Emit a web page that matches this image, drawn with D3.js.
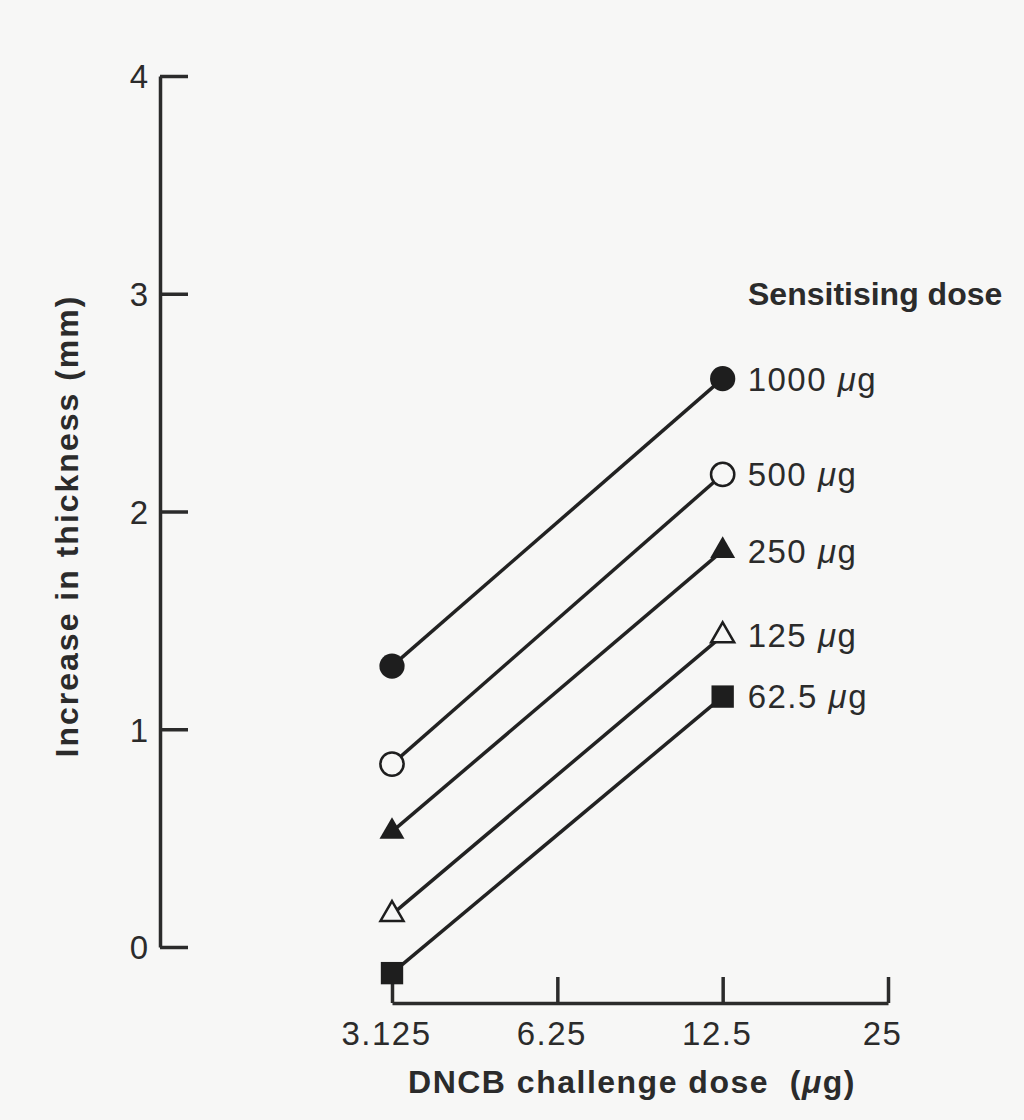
<!DOCTYPE html>
<html>
<head>
<meta charset="utf-8">
<script src="https://cdn.jsdelivr.net/npm/d3@7"></script>
<style>
  body { margin: 0; background: #f7f7f6; }
  svg { display: block; }
  text { font-family: "Liberation Sans", Arial, sans-serif; fill: #2b2b2b; }
  .axis path, .axis line { stroke: #2b2b2b; stroke-width: 3.5; }
  .axis text { font-size: 33px; letter-spacing: 1.5px; fill: #2b2b2b; font-family: "Liberation Sans", Arial, sans-serif; }
  .mu { font-style: italic; }
</style>
</head>
<body>
<div id="chart"></div>
<script>
// challenge doses (x) and sensitising doses (series)
var challengeDoses = [3.125, 12.5];
var xTicks = [3.125, 6.25, 12.5, 25];
var yTicks = [0, 1, 2, 3, 4];
var seriesNames = ["1000", "500", "250", "125", "62.5"];
var seriesSymbols = ["circle", "circle", "triangle", "triangle", "square"];
var seriesFilled = [true, false, true, false, true];
var s1000 = [1.29, 2.61];
var s500 = [0.84, 2.17];
var s250 = [0.53, 1.82];
var s125 = [0.15, 1.43];
var s62 = [-0.12, 1.15];
var seriesValues = [s1000, s500, s250, s125, s62];

var width = 1024, height = 1120;

var svg = d3.select("#chart")
    .append("svg")
    .attr("width", width)
    .attr("height", height);

var x = d3.scaleLog().base(2)
    .domain([3.125, 25])
    .range([392, 888]);

var y = d3.scaleLinear()
    .domain([0, 4])
    .range([947, 76]);

// y axis, ticks pointing inwards (right)
svg.append("g")
    .attr("class", "axis")
    .attr("transform", "translate(160,0)")
    .call(d3.axisLeft(y).tickValues(yTicks).tickFormat(d3.format("d"))
        .tickSizeInner(-28).tickSizeOuter(0).tickPadding(12))
    .call(function (g) { g.selectAll("text").attr("dy", "0.36em").style("letter-spacing", "0px"); });

// x axis, ticks pointing up
svg.append("g")
    .attr("class", "axis")
    .attr("transform", "translate(0,1003)")
    .call(d3.axisBottom(x).tickValues(xTicks).tickFormat(function (d) { return d; })
        .tickSizeInner(-26).tickSizeOuter(0).tickPadding(19))
    .call(function (g) { g.selectAll("text").attr("dx", -6); });

// axis titles
svg.append("text")
    .attr("transform", "translate(78,526) rotate(-90)")
    .attr("text-anchor", "middle")
    .style("font-size", "32px")
    .style("font-weight", "bold")
    .style("letter-spacing", "2px")
    .text("Increase in thickness (mm)");

var xt = svg.append("text")
    .attr("x", 632)
    .attr("y", 1093)
    .attr("text-anchor", "middle")
    .style("font-size", "32px")
    .style("font-weight", "bold")
    .style("letter-spacing", "1.5px")
    .style("white-space", "pre");
xt.append("tspan").text("DNCB challenge dose  (");
xt.append("tspan").attr("class", "mu").text("\u03bc");
xt.append("tspan").text("g)");

// lines
var line = d3.line()
    .x(function (d, i) { return x(challengeDoses[i]); })
    .y(function (d) { return y(d); });

svg.selectAll(".series-line")
    .data(seriesValues)
    .enter().append("path")
    .attr("class", "series-line")
    .attr("d", line)
    .attr("fill", "none")
    .attr("stroke", "#222")
    .attr("stroke-width", 3.5);

// markers
var symbolType = { circle: d3.symbolCircle, triangle: d3.symbolTriangle, square: d3.symbolSquare };
var symbolSize = { circle: 500, triangle: 270, square: 500 };

seriesValues.forEach(function (vals, s) {
    var sym = seriesSymbols[s];
    var filled = seriesFilled[s];
    var size = filled ? symbolSize[sym] : symbolSize[sym] * 0.85;
    svg.selectAll(".m" + s)
        .data(vals)
        .enter().append("path")
        .attr("class", "m" + s)
        .attr("transform", function (d, i) { return "translate(" + x(challengeDoses[i]) + "," + y(d) + ")"; })
        .attr("d", d3.symbol().type(symbolType[sym]).size(size))
        .attr("fill", filled ? "#1e1e1e" : "#f7f7f6")
        .attr("stroke", "#1e1e1e")
        .attr("stroke-width", filled ? 0 : 2.5);
});

// legend labels next to the right-hand points
var labs = svg.selectAll(".lab")
    .data(seriesValues)
    .enter().append("text")
    .attr("class", "lab")
    .attr("x", x(12.5) + 25)
    .attr("y", function (d) { return y(d[1]); })
    .attr("dy", "0.36em")
    .style("font-size", "33px")
    .style("letter-spacing", "1.5px");
labs.append("tspan").text(function (d, i) { return seriesNames[i] + " "; });
labs.append("tspan").attr("class", "mu").text("\u03bc");
labs.append("tspan").text("g");

svg.append("text")
    .attr("x", 748)
    .attr("y", 305)
    .style("font-size", "32px")
    .style("font-weight", "bold")
    .text("Sensitising dose");
</script>
</body>
</html>
